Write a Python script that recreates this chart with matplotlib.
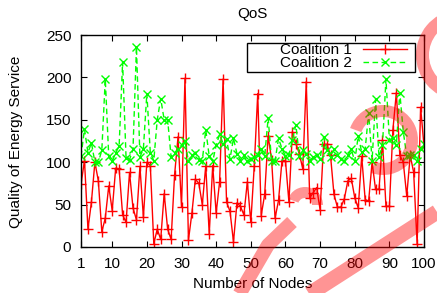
"""QoS of two coalitions over node index"""

import numpy as np
import matplotlib
matplotlib.use("Agg")
import matplotlib.pyplot as plt
from matplotlib.patches import Rectangle, Wedge

plt.rcParams["font.family"] = ["Liberation Sans", "DejaVu Sans"]

# %% data
nodes = np.arange(1, 101)

coalition1 = [
    74, 102, 21, 53, 100, 78, 18, 34, 72, 43,
    93, 92, 38, 29, 88, 46, 32, 95, 35, 100,
    96, 4, 21, 9, 63, 21, 9, 85, 130, 47,
    199, 8, 40, 80, 75, 50, 96, 15, 96, 40,
    77, 198, 53, 42, 6, 52, 48, 38, 77, 29,
    96, 181, 37, 62, 131, 103, 34, 55, 102, 102,
    53, 136, 122, 110, 92, 195, 58, 64, 70, 44,
    121, 121, 108, 62, 47, 47, 57, 78, 81, 58,
    46, 107, 56, 54, 100, 68, 68, 126, 48, 48,
    138, 182, 108, 100, 60, 108, 88, 3, 165, 118,
]

coalition2 = [
    107, 139, 111, 123, 100, 100, 114, 198, 107, 101,
    111, 119, 218, 105, 103, 115, 236, 106, 116, 181,
    111, 102, 150, 175, 150, 150, 106, 111, 116, 120,
    125, 101, 108, 111, 103, 102, 138, 107, 101, 120,
    133, 122, 127, 104, 128, 110, 102, 108, 101, 104,
    106, 108, 115, 107, 152, 102, 102, 128, 116, 107,
    109, 126, 144, 107, 114, 110, 102, 106, 108, 104,
    130, 114, 106, 115, 109, 104, 101, 108, 115, 101,
    131, 112, 115, 158, 102, 174, 106, 120, 198, 126,
    128, 120, 182, 136, 107, 108, 108, 102, 115, 122,
]

xticks = [1, 10, 20, 30, 40, 50, 60, 70, 80, 90, 100]
yticks = [0, 50, 100, 150, 200, 250]

# %% plot
fig = plt.figure(figsize=(4.37, 2.93), dpi=100)
ax = fig.add_axes([0.1854, 0.157, 0.785, 0.7235])

ax.plot(nodes, coalition1, color="#ff0000", lw=1.0, marker="+", ms=7,
        mew=1.0, label="Coalition 1")
ax.plot(nodes, coalition2, color="#00ff00", lw=1.0, ls=(0, (4, 2.5)),
        marker="x", ms=5.5, mew=1.0, label="Coalition 2")

ax.set_xlim(1, 100)
ax.set_ylim(0, 250)
ax.set_xticks(xticks)
ax.set_yticks(yticks)
ax.tick_params(direction="in", top=True, right=True, length=4.5, width=0.8,
               labelsize=11, pad=7)
for s in ax.spines.values():
    s.set_linewidth(1.0)

ax.set_title("QoS", fontsize=11, pad=12)
ax.set_xlabel("Number of Nodes", fontsize=11)
ax.set_ylabel("Quality of Energy Service", fontsize=11)
ax.xaxis.set_label_coords(0.5, -0.14)
ax.yaxis.set_label_coords(-0.168, 0.495)

# gnuplot-style key: text first, sample on the right, boxed
leg = ax.legend(loc="upper right", bbox_to_anchor=(0.95, 0.962),
                markerfirst=False, fontsize=11, frameon=False,
                handlelength=2.9, borderpad=0.0, labelspacing=-0.04,
                handletextpad=0.7, borderaxespad=0.0)
ax.add_patch(Rectangle((0.484, 0.8255), 0.4898, 0.1382, transform=ax.transAxes,
                       fill=False, lw=1.0, ec="black", zorder=5))

# %% translucent red watermark over the right half (pixel space)
ov = fig.add_axes([0, 0, 1, 1], zorder=10)
ov.set_xlim(0, 437)
ov.set_ylim(293, 0)
ov.axis("off")
ov.patch.set_alpha(0)
wm = dict(color="red", alpha=0.42, lw=0)
ov.add_patch(Wedge((462, 55), 46, 100, 260, width=13, **wm))
ov.add_patch(Wedge((383, 140), 35, 200, 470, width=12, **wm))
ov.plot([300, 437], [300, 212], color="red", alpha=0.42, lw=11,
        solid_capstyle="butt")
ov.plot([236, 268, 292], [300, 245, 222], color="red", alpha=0.42, lw=10,
        solid_capstyle="butt")
ov.add_patch(Wedge((305, 205), 18, 200, 360, width=11, **wm))

# %% save plot
fig.savefig("out.png", dpi=100)
